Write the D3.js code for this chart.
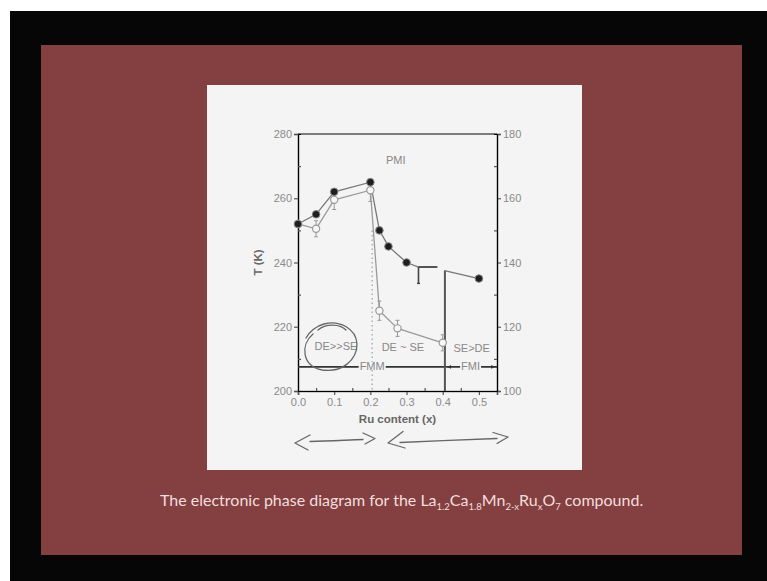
<!DOCTYPE html>
<html>
<head>
<meta charset="utf-8">
<script src="https://cdn.jsdelivr.net/npm/d3@7"></script>
<style>
  body { margin: 0; background: #fff; }
  svg { display: block; }
</style>
</head>
<body>
<div class="canvas"></div>
<script>
// Ru content (x) and Tc from the left axis (filled circles)
const ruFilled = [0, 0.05, 0.1, 0.2, 0.225, 0.25, 0.3, 0.5];
const tFilled = [252, 255, 262, 265, 250, 245, 240, 235];
// connecting line pieces of the filled series
const lineA_x = [0, 0.05, 0.1, 0.2, 0.225, 0.25, 0.3, 0.333, 0.385];
const lineA_t = [252, 255, 262, 265, 250, 245, 240, 238.6, 238.6];
const lineB_x = [0.405, 0.5];
const lineB_t = [237.5, 235];
// open circles, right axis
const ruOpen = [0, 0.05, 0.1, 0.2, 0.225, 0.275, 0.4];
const tOpen = [152, 150.5, 159.5, 162.5, 125, 119.5, 115];
const errOpen = [0, 2.5, 3, 3.5, 3, 2.5, 2.5];

const leftTicks = [200, 220, 240, 260, 280];
const rightTicks = [100, 120, 140, 160, 180];
const xTicks = [0, 0.1, 0.2, 0.3, 0.4, 0.5];

const W = 767, H = 581;
const svg = d3.select('.canvas')
  .append('svg')
    .attr('width', W)
    .attr('height', H);

// slide background
svg.append('rect').attr('x', 10).attr('y', 11).attr('width', W - 10).attr('height', H - 11).attr('fill', '#060606');
svg.append('rect').attr('x', 41).attr('y', 45).attr('width', 701).attr('height', 510).attr('fill', '#843f40');
svg.append('rect').attr('x', 207).attr('y', 85).attr('width', 375).attr('height', 385).attr('fill', '#f4f4f4');

const plot = {left: 298, right: 497, top: 134, bottom: 391};

const x = d3.scaleLinear().domain([0, 0.55]).range([plot.left, plot.right]);
const yL = d3.scaleLinear().domain([200, 280]).range([plot.bottom, plot.top]);
const yR = d3.scaleLinear().domain([100, 180]).range([plot.bottom, plot.top]);

const axisColor = '#555';
const labelColor = '#8a8a8a';
const font = '"Liberation Sans", Arial, sans-serif';

function styleAxis(g) {
  g.select('.domain').attr('stroke', axisColor).attr('stroke-width', 1.6);
  g.selectAll('.tick line').attr('stroke', axisColor).attr('stroke-width', 1.2);
  g.selectAll('.tick text').attr('fill', labelColor).style('font-family', font).style('font-size', '11px');
}

// top frame
svg.append('line')
  .attr('x1', plot.left).attr('x2', plot.right)
  .attr('y1', plot.top).attr('y2', plot.top)
  .attr('stroke', axisColor).attr('stroke-width', 1.6);

const gLeft = svg.append('g').attr('transform', `translate(${plot.left},0)`);
gLeft.call(d3.axisLeft(yL).tickValues(leftTicks).tickSize(4).tickPadding(2).tickFormat(d3.format('d')));
gLeft.append('g').call(d3.axisLeft(yL).tickValues([210, 230, 250, 270]).tickSize(-3).tickFormat(''));
styleAxis(gLeft);

const gRight = svg.append('g').attr('transform', `translate(${plot.right},0)`);
gRight.call(d3.axisRight(yR).tickValues(rightTicks).tickSize(4).tickPadding(2).tickFormat(d3.format('d')));
gRight.append('g').call(d3.axisRight(yR).tickValues([110, 130, 150, 170]).tickSize(-3).tickFormat(''));
styleAxis(gRight);

const gBottom = svg.append('g').attr('transform', `translate(0,${plot.bottom})`);
gBottom.call(d3.axisBottom(x).tickValues(xTicks).tickSize(4).tickPadding(3).tickFormat(d3.format('.1f')));
gBottom.append('g').call(d3.axisBottom(x).tickValues([0.05, 0.15, 0.25, 0.35, 0.45]).tickSize(-3).tickFormat(''));
styleAxis(gBottom);

// axis titles
svg.append('text')
  .attr('transform', `translate(262,${yL(240)}) rotate(-90)`)
  .attr('text-anchor', 'middle')
  .attr('fill', '#666').style('font-family', font).style('font-size', '11.5px').style('font-weight', 'bold')
  .text('T (K)');
svg.append('text')
  .attr('x', x(0.275)).attr('y', 423)
  .attr('text-anchor', 'middle')
  .attr('fill', '#666').style('font-family', font).style('font-size', '11.5px').style('font-weight', 'bold')
  .text('Ru content (x)');

// dotted boundary near x = 0.2
svg.append('line')
  .attr('x1', x(0.205)).attr('x2', x(0.205))
  .attr('y1', yL(250)).attr('y2', yL(200))
  .attr('stroke', '#aaa').attr('stroke-width', 1.4).attr('stroke-dasharray', '1.5,3');

// FMM / FMI line
const yF = yL(207.5);
svg.append('line')
  .attr('x1', x(0)).attr('x2', x(0.55))
  .attr('y1', yF).attr('y2', yF)
  .attr('stroke', '#333').attr('stroke-width', 1.6);

// thick vertical boundary at x ~ 0.4
svg.append('line')
  .attr('x1', x(0.406)).attr('x2', x(0.406))
  .attr('y1', yL(237.5)).attr('y2', yL(200))
  .attr('stroke', '#555').attr('stroke-width', 2);

// filled series lines
const lineL = d3.line().x(d => x(d[0])).y(d => yL(d[1]));
const lineR = d3.line().x(d => x(d[0])).y(d => yR(d[1]));
svg.append('path')
  .attr('d', lineL(d3.zip(lineA_x, lineA_t)))
  .attr('fill', 'none').attr('stroke', '#777').attr('stroke-width', 1.3);
svg.append('path')
  .attr('d', lineL(d3.zip(lineB_x, lineB_t)))
  .attr('fill', 'none').attr('stroke', '#777').attr('stroke-width', 1.3);
// drop bar at x = 0.333
svg.append('line')
  .attr('x1', x(0.333)).attr('x2', x(0.333))
  .attr('y1', yL(238.6)).attr('y2', yL(233.5))
  .attr('stroke', '#444').attr('stroke-width', 1.6);
svg.append('line')
  .attr('x1', x(0.333) - 1.5).attr('x2', x(0.333) + 1.5)
  .attr('y1', yL(233.5)).attr('y2', yL(233.5))
  .attr('stroke', '#444').attr('stroke-width', 1.4);
svg.append('line')
  .attr('x1', x(0.333)).attr('x2', x(0.385))
  .attr('y1', yL(238.6)).attr('y2', yL(238.6))
  .attr('stroke', '#444').attr('stroke-width', 1.6);

// open series line + error bars
const openData = d3.zip(ruOpen, tOpen, errOpen);
svg.append('path')
  .attr('d', lineR(openData))
  .attr('fill', 'none').attr('stroke', '#9a9a9a').attr('stroke-width', 1.3);
const eb = svg.append('g').attr('stroke', '#999').attr('stroke-width', 1);
const withErr = openData.filter(d => d[2] > 0);
eb.selectAll('line.v').data(withErr).enter()
  .append('line')
    .attr('x1', d => x(d[0])).attr('x2', d => x(d[0]))
    .attr('y1', d => yR(d[1] - d[2])).attr('y2', d => yR(d[1] + d[2]));
eb.selectAll('line.lo').data(withErr).enter()
  .append('line')
    .attr('x1', d => x(d[0]) - 2).attr('x2', d => x(d[0]) + 2)
    .attr('y1', d => yR(d[1] - d[2])).attr('y2', d => yR(d[1] - d[2]));
eb.selectAll('line.hi').data(withErr).enter()
  .append('line')
    .attr('x1', d => x(d[0]) - 2).attr('x2', d => x(d[0]) + 2)
    .attr('y1', d => yR(d[1] + d[2])).attr('y2', d => yR(d[1] + d[2]));
svg.selectAll('circle.open').data(openData).enter()
  .append('circle')
    .attr('class', 'open')
    .attr('cx', d => x(d[0]))
    .attr('cy', d => yR(d[1]))
    .attr('r', 3.6)
    .attr('fill', '#f7f7f7').attr('stroke', '#9a9a9a').attr('stroke-width', 1.2);

// filled circles
svg.selectAll('circle.filled').data(d3.zip(ruFilled, tFilled)).enter()
  .append('circle')
    .attr('class', 'filled')
    .attr('cx', d => x(d[0]))
    .attr('cy', d => yL(d[1]))
    .attr('r', 3.8)
    .attr('fill', '#1e1e1e').attr('stroke', '#888').attr('stroke-width', 1);

// region labels
function label(text, xv, tv, bg) {
  const t = svg.append('text')
    .attr('x', x(xv)).attr('y', yL(tv))
    .attr('text-anchor', 'middle').attr('dominant-baseline', 'middle')
    .attr('fill', '#888').style('font-family', font).style('font-size', '11px')
    .text(text);
  if (bg) {
    const b = t.node().getBBox();
    svg.insert('rect', () => t.node())
      .attr('x', b.x - 1).attr('y', b.y + 2).attr('width', b.width + 2).attr('height', b.height - 4)
      .attr('fill', '#f4f4f4');
  }
}
label('PMI', 0.27, 271.5);
label('DE>>SE', 0.105, 213.6);
label('DE ~ SE', 0.29, 213.4);
label('SE>DE', 0.48, 213);
label('FMM', 0.205, 207.5, true);
label('FMI', 0.477, 207.5, true);
// little arrowheads of the FMI span
svg.append('path')
  .attr('d', `M${x(0.412)},${yF} l4,-1.8 v3.6 Z M${x(0.545)},${yF} l-4,-1.8 v3.6 Z`)
  .attr('fill', '#333');

// hand drawn marks
const pen = svg.append('g').attr('fill', 'none').attr('stroke', '#666').attr('stroke-width', 1.3)
  .attr('stroke-linecap', 'round').attr('stroke-linejoin', 'round');
pen.append('path')
  .attr('d', 'M313,334 C300,345 302,366 322,370 C342,373 357,360 357,344 C356,328 339,320 324,324 C316,326 309,332 306,338 M318,330 C326,323 340,324 346,330');
pen.append('path')
  .attr('d', 'M310,435 L295,443 L308,450 M310,441.5 C330,441 348,440 363,439.5 M363,433 L375,438.5 L365,444');
pen.append('path')
  .attr('d', 'M403,431.5 L388,443 L405,448 M400,442.5 C430,441 470,439.5 497,438.5 M493,432.5 L508,437 L497,443.5');

// caption
const cap = svg.append('text')
  .attr('x', 160).attr('y', 506)
  .attr('fill', '#f2dede')
  .style('font-family', 'Lato, "Open Sans", sans-serif').style('font-size', '16px');
const parts = [['The electronic phase diagram for the La', 0], ['1.2', 1], ['Ca', 0], ['1.8', 1], ['Mn', 0], ['2-x', 1],
  ['Ru', 0], ['x', 1], ['O', 0], ['7', 1], [' compound.', 0]];
parts.forEach((p, i) => {
  cap.append('tspan')
    .attr('dy', p[1] ? 3.5 : (i ? -3.5 : 0))
    .style('font-size', p[1] ? '9.5px' : '16px')
    .text(p[0]);
});
</script>
</body>
</html>
